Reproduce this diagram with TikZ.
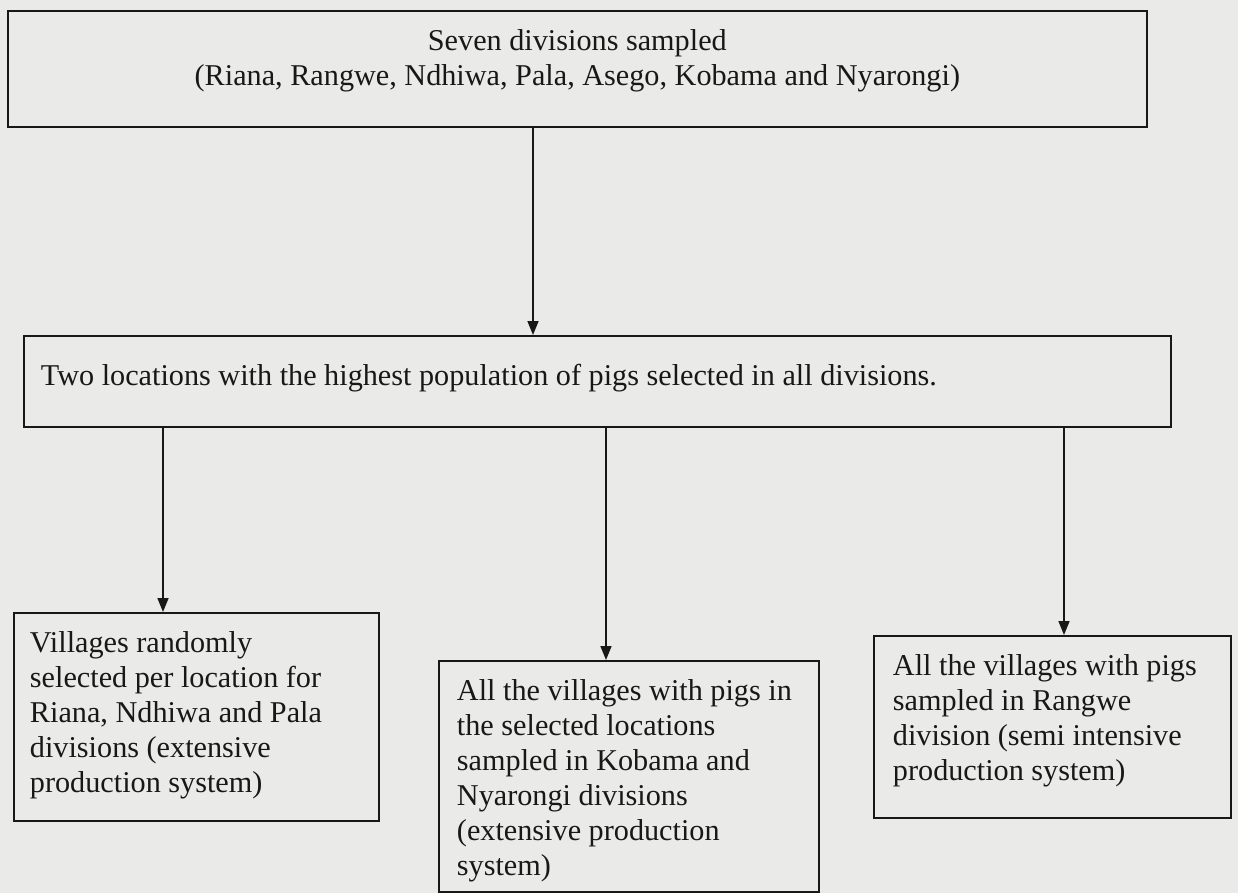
\documentclass[tikz,border=0pt]{standalone}
\usepackage{fontspec}
\setmainfont{Liberation Serif}
\usetikzlibrary{arrows.meta}
\definecolor{paper}{RGB}{234,234,232}
\definecolor{ink}{RGB}{24,24,24}
\tikzstyle{stage} =
  [ rectangle
  , draw=ink
  , line width=1.1pt
  , anchor=north west
  , inner xsep=0.34cm
  , inner ysep=0.31cm
  , text=ink
  , font=\fontsize{17.2pt}{19.9pt}\selectfont
  ]
\def\StageText#1#2#3{\parbox[t][#2][t]{#1}{\raggedright\strut #3}}

\begin{document}
\begin{tikzpicture}[x=0.02cm, y=-0.02cm, >={Triangle[length=0.28cm,width=0.22cm]}, line width=0.9pt]
    \fill[paper] (0,0) rectangle (1238,893);

    \node[stage, inner xsep=0cm] (divisions) at (7,10)
      {\parbox[t][1.70cm][t]{22.78cm}{\centering\strut Seven divisions sampled\\
        (Riana, Rangwe, Ndhiwa, Pala, Asego, Kobama and Nyarongi)}};
    \node[stage, inner ysep=0.5cm] (locations) at (23,335)
      {\StageText{22.26cm}{0.82cm}{Two locations with the highest population of pigs selected in all divisions.}};

    % villages per division
    \node[stage, inner xsep=0.32cm] (random_villages) at (13,612)
      {\StageText{6.66cm}{3.54cm}{Villages randomly\\ selected per location for\\ Riana, Ndhiwa and Pala\\ divisions (extensive\\ production system)}};
    \node[stage, inner xsep=0.36cm] (kobama_villages) at (438,660)
      {\StageText{6.88cm}{4.00cm}{All the villages with pigs in\\ the selected locations\\ sampled in Kobama and\\ Nyarongi divisions\\ (extensive production\\ system)}};
    \node[stage, inner xsep=0.38cm] (rangwe_villages) at (873,635)
      {\StageText{6.38cm}{3.02cm}{All the villages with pigs\\ sampled in Rangwe\\ division (semi intensive\\ production system)}};

    \coordinate (col_locations) at (533,0);
    \coordinate (col_random)    at (163,0);
    \coordinate (col_kobama)    at (606,0);
    \coordinate (col_rangwe)    at (1064,0);

    \draw[->, ink] (divisions.south -| col_locations) -- (locations.north -| col_locations);
    \draw[->, ink] (locations.south -| col_random)    -- (random_villages.north -| col_random);
    \draw[->, ink] (locations.south -| col_kobama)    -- (kobama_villages.north -| col_kobama);
    \draw[->, ink] (locations.south -| col_rangwe)    -- (rangwe_villages.north -| col_rangwe);
\end{tikzpicture}
\end{document}
